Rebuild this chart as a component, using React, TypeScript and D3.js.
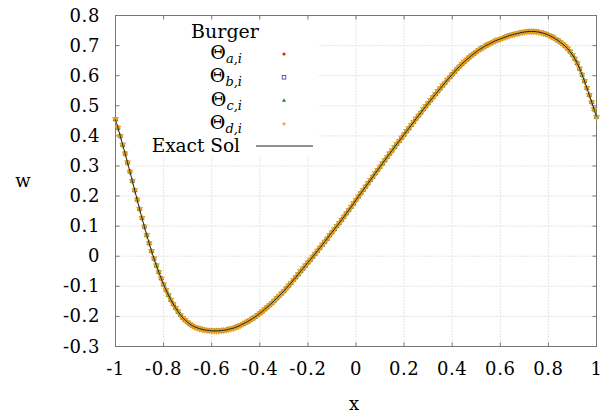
import React from 'react';
import * as d3 from 'd3';

const xTicks = [-1, -0.8, -0.6, -0.4, -0.2, 0, 0.2, 0.4, 0.6, 0.8, 1];
const yTicks = [-0.3, -0.2, -0.1, 0, 0.1, 0.2, 0.3, 0.4, 0.5, 0.6, 0.7, 0.8];

// sample grid: x from -1 to 1 in steps of 0.01
const xStart = -1;
const xStep = 0.01;

// w(x)
const wValues = [
  0.455, 0.427, 0.399, 0.370, 0.341, 0.311, 0.281, 0.250, 0.219, 0.188,
  0.157, 0.127, 0.098, 0.070, 0.043, 0.017, -0.008, -0.031, -0.053, -0.074,
  -0.094, -0.112, -0.129, -0.145, -0.159, -0.172, -0.184, -0.195, -0.205, -0.213,
  -0.220, -0.226, -0.231, -0.235, -0.238, -0.241, -0.243, -0.245, -0.246, -0.247,
  -0.248, -0.248, -0.248, -0.248, -0.247, -0.246, -0.245, -0.243, -0.241, -0.239,
  -0.236, -0.233, -0.229, -0.225, -0.221, -0.217, -0.212, -0.207, -0.202, -0.196,
  -0.190, -0.184, -0.177, -0.170, -0.163, -0.156, -0.148, -0.140, -0.132, -0.124,
  -0.116, -0.107, -0.098, -0.089, -0.079, -0.070, -0.060, -0.050, -0.041, -0.031,
  -0.021, -0.012, -0.002, 0.008, 0.018, 0.028, 0.038, 0.048, 0.058, 0.069,
  0.079, 0.089, 0.100, 0.110, 0.121, 0.131, 0.142, 0.153, 0.164, 0.175,
  0.187, 0.198, 0.209, 0.220, 0.231, 0.242, 0.253, 0.264, 0.275, 0.286,
  0.297, 0.308, 0.319, 0.330, 0.341, 0.351, 0.362, 0.373, 0.383, 0.394,
  0.404, 0.415, 0.425, 0.436, 0.446, 0.457, 0.467, 0.477, 0.488, 0.498,
  0.508, 0.518, 0.528, 0.538, 0.548, 0.557, 0.567, 0.576, 0.586, 0.595,
  0.604, 0.613, 0.622, 0.630, 0.638, 0.646, 0.653, 0.660, 0.667, 0.673,
  0.679, 0.685, 0.690, 0.695, 0.700, 0.704, 0.708, 0.712, 0.716, 0.719,
  0.722, 0.725, 0.728, 0.731, 0.734, 0.736, 0.738, 0.740, 0.742, 0.744,
  0.745, 0.746, 0.747, 0.747, 0.747, 0.746, 0.745, 0.743, 0.741, 0.738,
  0.735, 0.731, 0.727, 0.722, 0.717, 0.711, 0.705, 0.698, 0.690, 0.680,
  0.669, 0.656, 0.641, 0.623, 0.603, 0.582, 0.559, 0.536, 0.512, 0.488,
  0.463,
];

const seriesKeys = ['a', 'b', 'c', 'd'];
const seriesColors = ['#e51e10', '#3a3ac8', '#1f8a1f', '#e8a020'];
const seriesShapes = ['circle', 'square', 'triUp', 'triDown'];
const plotMarkerSizes = [3.6, 3.4, 5.6, 7];
const legendTitle = 'Burger';
const exactLabel = 'Exact Sol';

const W = 602;
const H = 414;
const left = 115.5;
const right = 596.5;
const top = 15.5;
const bottom = 346.5;
const FONT = '"DejaVu Serif", serif';

const fmt = (v: number) => String(Math.round(v * 10) / 10);

function Marker({ shape, color, x, y, s }: { shape: string; color: string; x: number; y: number; s: number }) {
  if (shape === 'circle') return <circle cx={x} cy={y} r={s * 0.4} fill={color} />;
  if (shape === 'square')
    return <rect x={x - s * 0.45} y={y - s * 0.45} width={s * 0.9} height={s * 0.9} fill="none" stroke={color} strokeWidth={0.8} />;
  const size = (Math.sqrt(3) / 4) * s * s;
  const p = d3.symbol(d3.symbolTriangle, size)() as string;
  return (
    <path
      d={p}
      fill={color}
      transform={`translate(${x},${y})${shape === 'triDown' ? ' rotate(180)' : ''}`}
    />
  );
}

export default function App() {
  const xVals = wValues.map((_, i) => +(xStart + i * xStep).toFixed(2));
  const xs = d3.scaleLinear().domain([-1, 1]).range([left, right]);
  const ys = d3.scaleLinear().domain([-0.3, 0.8]).range([bottom, top]);
  const pts: [number, number][] = xVals.map((x, i) => [x, wValues[i]]);
  const line = d3
    .line<[number, number]>()
    .x((d) => xs(d[0]))
    .y((d) => ys(d[1]))
    .curve(d3.curveCatmullRom);

  const legendX = 242;
  const markX = 284;
  const rowY = [54, 77.3, 100.6, 123.8];

  return (
    <svg
      width={W}
      height={H}
      style={{ position: 'absolute', left: 0, top: 0, background: '#fff' }}
      fontFamily={FONT}
    >
      <rect x={0} y={0} width={W} height={H} fill="#fff" />
      {/* grid */}
      <g stroke="#c8c8c8" strokeWidth={0.8} strokeDasharray="1.2,1.8">
        {xTicks.slice(1, -1).map((t) => (
          <line key={'gx' + t} x1={xs(t)} x2={xs(t)} y1={top} y2={bottom} />
        ))}
        {yTicks.slice(1, -1).map((t) => (
          <line key={'gy' + t} x1={left} x2={right} y1={ys(t)} y2={ys(t)} />
        ))}
      </g>
      {/* legend background */}
      <rect x={117} y={17} width={201} height={139} fill="#fff" />
      {/* border & ticks */}
      <rect x={left} y={top} width={right - left} height={bottom - top} fill="none" stroke="#777" strokeWidth={1} />
      <g stroke="#777" strokeWidth={1}>
        {xTicks.map((t) => (
          <g key={'tx' + t}>
            <line x1={xs(t)} x2={xs(t)} y1={bottom} y2={bottom - 4} />
            <line x1={xs(t)} x2={xs(t)} y1={top} y2={top + 4} />
          </g>
        ))}
        {yTicks.map((t) => (
          <g key={'ty' + t}>
            <line x1={left} x2={left + 4} y1={ys(t)} y2={ys(t)} />
            <line x1={right} x2={right - 4} y1={ys(t)} y2={ys(t)} />
          </g>
        ))}
      </g>
      {/* tick labels */}
      <g fontSize={18} fill="#000" letterSpacing={0.6}>
        {xTicks.map((t) => (
          <text key={'lx' + t} x={xs(t)} y={375} textAnchor="middle">
            {fmt(t)}
          </text>
        ))}
        {yTicks.map((t) => (
          <text key={'ly' + t} x={100} y={ys(t) + 6} textAnchor="end">
            {fmt(t)}
          </text>
        ))}
      </g>
      <text x={23} y={187} fontSize={18} textAnchor="middle">w</text>
      <text x={354} y={410} fontSize={18} textAnchor="middle">x</text>

      {/* data markers */}
      {seriesKeys.map((k, si) => (
        <g key={'s' + k}>
          {pts.map((d, i) => (
            <Marker key={i} shape={seriesShapes[si]} color={seriesColors[si]} x={xs(d[0])} y={ys(d[1])} s={plotMarkerSizes[si]} />
          ))}
        </g>
      ))}
      <path d={line(pts) as string} fill="none" stroke="#222" strokeWidth={1} />

      {/* legend */}
      <text x={225} y={38} fontSize={19} textAnchor="middle">{legendTitle}</text>
      {seriesKeys.map((k, si) => (
        <g key={'lg' + k}>
          <text x={legendX} y={rowY[si] + 5} fontSize={19} textAnchor="end">
            <tspan>Θ</tspan>
            <tspan fontSize={13} fontStyle="italic" dy={4}>{k},i</tspan>
          </text>
          <Marker shape={seriesShapes[si]} color={seriesColors[si]} x={markX} y={rowY[si]} s={4} />
        </g>
      ))}
      <text x={240} y={152} fontSize={18.5} textAnchor="end">{exactLabel}</text>
      <line x1={256} x2={313} y1={146} y2={146} stroke="#222" strokeWidth={1} />
    </svg>
  );
}
